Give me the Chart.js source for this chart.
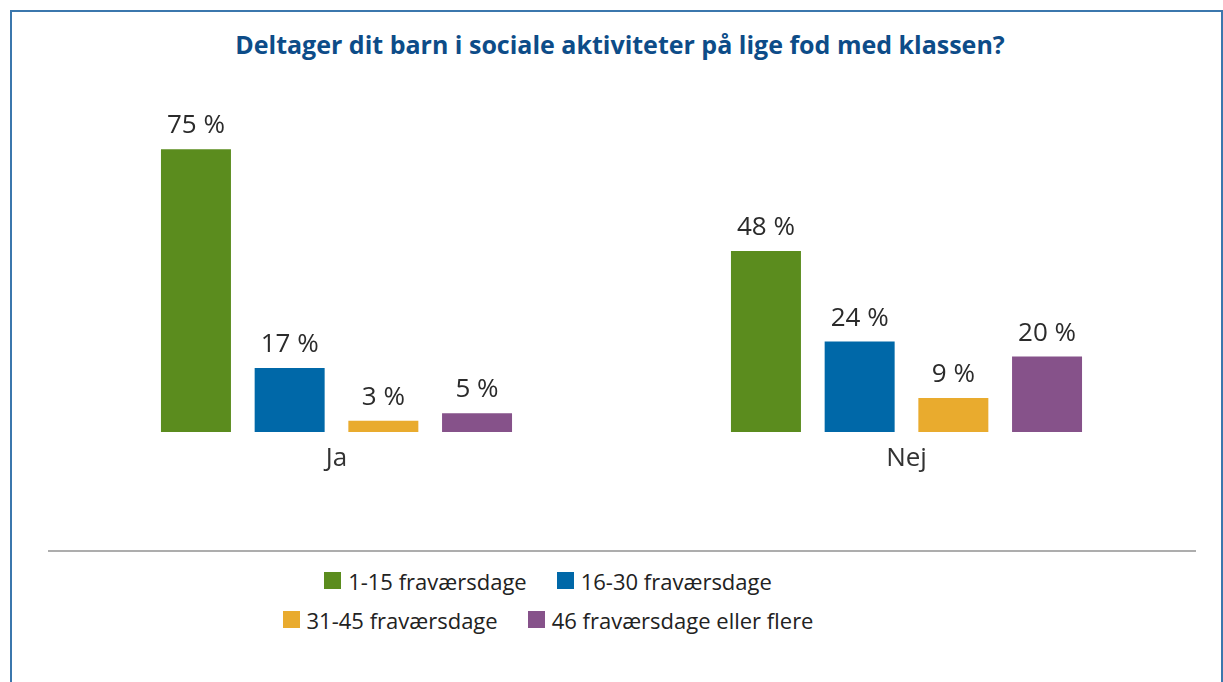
<!DOCTYPE html>
<html lang="da">
<head>
<meta charset="utf-8">
<title>Deltager dit barn i sociale aktiviteter</title>
<script src="https://cdn.jsdelivr.net/npm/chart.js@4.4.1/dist/chart.umd.min.js"></script>
<style>
  html, body { margin: 0; padding: 0; background: #fff; }
  body { width: 1223px; height: 682px; position: relative; overflow: hidden; font-family: "Open Sans", "Noto Sans", sans-serif; }
  #frame { position: absolute; left: 10px; top: 10px; width: 1209px; height: 700px; border: 2px solid #3b77ad; border-bottom: none; }
  #title { position: absolute; left: 0; top: 27px; width: 1240px; text-align: center; font-weight: 700; font-size: 25px; color: #0d4c88; }
  #chartBox { position: absolute; left: 0; top: 0; }
  #rule { position: absolute; left: 48px; top: 550px; width: 1148px; height: 2px; background: #adadad; }
  #legend { position: absolute; left: 0; top: 564px; width: 1096px; }
  .row { display: flex; justify-content: center; column-gap: 30px; margin-bottom: 6px; }
  .item { display: flex; align-items: center; font-size: 22px; color: #222; height: 33px; white-space: nowrap; }
  .swatch { width: 17px; height: 17px; margin-right: 7px; }
</style>
</head>
<body>
<div id="frame"></div>
<div id="title">Deltager dit barn i sociale aktiviteter på lige fod med klassen?</div>
<div id="chartBox"><canvas id="chart" width="1223" height="480"></canvas></div>
<div id="rule"></div>
<div id="legend"></div>
<script>
  const categories = ["Ja", "Nej"];
  const seriesNames = ["1-15 fraværsdage", "16-30 fraværsdage", "31-45 fraværsdage", "46 fraværsdage eller flere"];
  const seriesColors = ["#5b8c1e", "#0068a8", "#e9ab2e", "#86528a"];
  const days1to15 = [75, 48];
  const days16to30 = [17, 24];
  const days31to45 = [3, 9];
  const days46plus = [5, 20];
  const seriesValues = [days1to15, days16to30, days31to45, days46plus];

  const valueLabels = {
    id: "valueLabels",
    afterDatasetsDraw(chart) {
      const { ctx } = chart;
      ctx.save();
      ctx.font = '26px "Open Sans", "Noto Sans", sans-serif';
      ctx.fillStyle = "#2b2b2b";
      ctx.textAlign = "center";
      ctx.textBaseline = "alphabetic";
      chart.data.datasets.forEach((ds, i) => {
        chart.getDatasetMeta(i).data.forEach((bar, j) => {
          ctx.fillText(ds.data[j] + " %", bar.x, bar.y - 16);
        });
      });
      ctx.restore();
    }
  };

  const chart = new Chart(document.getElementById("chart"), {
    type: "bar",
    data: {
      labels: categories,
      datasets: seriesNames.map((name, i) => ({
        label: name,
        data: seriesValues[i],
        backgroundColor: seriesColors[i],
        borderWidth: 0,
        categoryPercentage: 0.6575,
        barPercentage: 0.747
      }))
    },
    options: {
      responsive: false,
      animation: false,
      layout: { padding: { left: 51.5, right: 31.5, top: 55, bottom: 2.8 } },
      plugins: { legend: { display: false }, tooltip: { enabled: false } },
      scales: {
        x: {
          grid: { display: false },
          border: { display: false },
          ticks: { color: "#333", font: { family: '"Open Sans", "Noto Sans", sans-serif', size: 26 } }
        },
        y: { display: false, min: 0, max: 100 }
      }
    },
    plugins: [valueLabels]
  });

  // legend built from the chart's own datasets, two entries per row
  const legendEl = document.getElementById("legend");
  const ds = chart.data.datasets;
  let html = "";
  for (let i = 0; i < ds.length; i += 2) {
    html += '<div class="row">' + ds.slice(i, i + 2).map(d =>
      `<div class="item"><span class="swatch" style="background:${d.backgroundColor}"></span>${d.label}</div>`
    ).join("") + "</div>";
  }
  legendEl.innerHTML = html;
</script>
</body>
</html>
